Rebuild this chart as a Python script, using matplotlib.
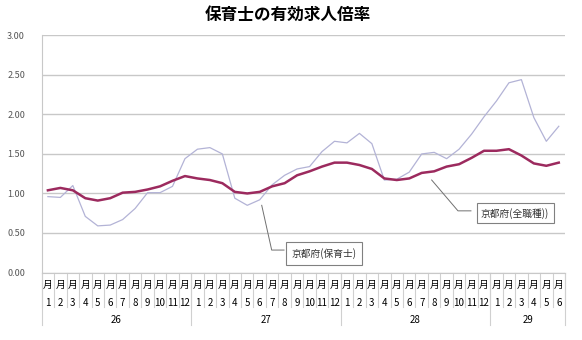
import matplotlib
matplotlib.use("Agg")
import matplotlib.pyplot as plt
import numpy as np

plt.rcParams['font.family'] = ['Noto Sans CJK JP', 'DejaVu Sans']

# データ（平成26年1月～29年6月）
years = ['26', '27', '28', '29']
months_per_year = [12, 12, 12, 6]
month_labels = [str(m) for n in months_per_year for m in range(1, n + 1)]

hoikushi = [0.96, 0.95, 1.10, 0.71, 0.59, 0.60, 0.67, 0.81, 1.01, 1.01, 1.09, 1.44,
            1.56, 1.58, 1.50, 0.94, 0.85, 0.92, 1.11, 1.23, 1.31, 1.34, 1.53, 1.66,
            1.64, 1.76, 1.63, 1.17, 1.18, 1.27, 1.50, 1.52, 1.44, 1.56, 1.75, 1.97,
            2.17, 2.40, 2.44, 1.96, 1.66, 1.85]
zenshokushu = [1.04, 1.07, 1.04, 0.94, 0.91, 0.94, 1.01, 1.02, 1.05, 1.09, 1.16, 1.22,
               1.19, 1.17, 1.13, 1.02, 1.00, 1.02, 1.09, 1.13, 1.23, 1.28, 1.34, 1.39,
               1.39, 1.36, 1.31, 1.19, 1.17, 1.19, 1.26, 1.28, 1.34, 1.37, 1.45, 1.54,
               1.54, 1.56, 1.48, 1.38, 1.35, 1.39]

n = len(month_labels)
x = np.arange(n)

fig = plt.figure(figsize=(5.82, 3.40), dpi=100)
ax = fig.add_axes([0.0716, 0.1985, 0.8992, 0.6975])

ax.plot(x, hoikushi, color='#B3B3D6', lw=0.9, zorder=3)
ax.plot(x, zenshokushu, color='#9C2A5E', lw=1.8, zorder=4)

ax.set_xlim(-0.5, n - 0.5)
ax.set_ylim(0, 3)
ax.set_yticks(np.arange(0, 3.01, 0.5))
ax.set_yticklabels(['%.2f' % v for v in np.arange(0, 3.01, 0.5)], fontsize=6.5, color='#555555')
ax.tick_params(axis='y', length=0, pad=12)
ax.set_xticks([])
ax.grid(axis='y', color='#C8C8C8', lw=1.0)
ax.set_axisbelow(True)
for s in ['top', 'right']:
    ax.spines[s].set_visible(False)
ax.spines['left'].set_color('#C8C8C8')
ax.spines['bottom'].set_color('#C8C8C8')

# 軸の下の表（月・数字・年）
tr = ax.get_xaxis_transform()
for i, lab in enumerate(month_labels):
    ax.text(i, -0.053, '月', transform=tr, ha='center', va='center', fontsize=7, clip_on=False)
    ax.text(i, -0.128, lab, transform=tr, ha='center', va='center', fontsize=7, clip_on=False)
for b in np.arange(-0.5, n, 1.0):
    ax.plot([b, b], [0, -0.144], transform=tr, color='#D0D0D0', lw=0.8, clip_on=False)
start = 0
for yr, cnt in zip(years, months_per_year):
    ax.text(start + (cnt - 1) / 2, -0.20, yr, transform=tr, ha='center', va='center',
            fontsize=7, clip_on=False)
    ax.plot([start - 0.5, start - 0.5], [0, -0.221], transform=tr, color='#D0D0D0', lw=0.8, clip_on=False)
    start += cnt
ax.plot([n - 0.5, n - 0.5], [0, -0.221], transform=tr, color='#D0D0D0', lw=0.8, clip_on=False)

# 吹き出し
ax.plot([17.16, 17.96, 18.95], [0.85, 0.284, 0.284], color='#707070', lw=0.7, zorder=5)
ax.text(22.16, 0.24, '京都府(保育士)', ha='center', va='center', fontsize=7, color='#333333',
        zorder=6, bbox=dict(boxstyle='square,pad=0.6', fc='white', ec='#808080', lw=0.8))
ax.plot([30.8, 32.91, 33.95], [1.17, 0.78, 0.78], color='#707070', lw=0.7, zorder=5)
ax.text(37.49, 0.75, '京都府(全職種))', ha='center', va='center', fontsize=7, color='#333333',
        zorder=6, bbox=dict(boxstyle='square,pad=0.45', fc='white', ec='#808080', lw=0.8))

fig.text(0.495, 0.955, '保育士の有効求人倍率', ha='center', va='center', fontsize=12, fontweight='bold')

fig.savefig('out.png', dpi=100)
